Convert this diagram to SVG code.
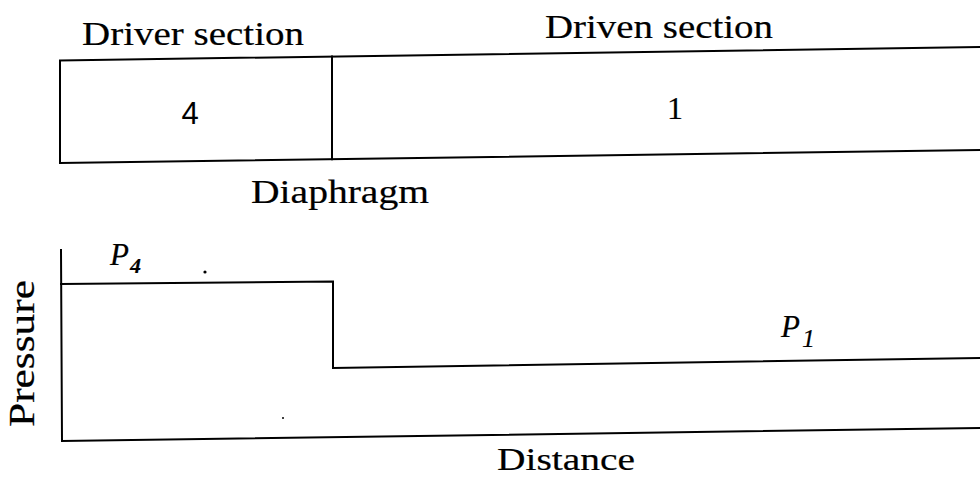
<svg xmlns="http://www.w3.org/2000/svg" width="980" height="483" viewBox="0 0 980 483">
<style>
.ln{stroke:#000;stroke-width:2;fill:none;stroke-linecap:square}
.t{font-family:'Liberation Serif','Times New Roman',Times,serif;fill:#000;stroke:#000;stroke-width:0.2}
.s{font-family:'Liberation Sans',Arial,sans-serif;fill:#000}
.i{font-family:'Liberation Serif','Times New Roman',Times,serif;font-style:italic;fill:#000;stroke:#000;stroke-width:0.2}
</style>
<rect width="980" height="483" fill="#fff"/>
<g id="driver-label"><text class="t" x="82" y="45" font-size="34" textLength="222" lengthAdjust="spacingAndGlyphs">Driver section</text></g>
<g id="driven-label"><text class="t" x="545" y="38" font-size="34" textLength="228" lengthAdjust="spacingAndGlyphs">Driven section</text></g>
<g id="tube">
<path class="ln" d="M60,60.5 L980,47 M60,163 L980,150 M60,60.5 L60,163"/>
</g>
<g id="driver-section"><text class="s" x="190" y="124" font-size="31" text-anchor="middle">4</text></g>
<g id="diaphragm"><path class="ln" d="M332,56.5 L332,159.2"/></g>
<g id="driven-section"><text class="t" x="675" y="119" font-size="32" text-anchor="middle">1</text></g>
<g id="diaphragm-label"><text class="t" x="251" y="203" font-size="33" textLength="178" lengthAdjust="spacingAndGlyphs">Diaphragm</text></g>
<g id="axes">
<path class="ln" d="M61,250 L62,441 L980,428"/>
<text class="t" transform="translate(34,427) rotate(-90)" font-size="35" textLength="147" lengthAdjust="spacingAndGlyphs">Pressure</text>
<text class="t" x="497" y="470" font-size="32" textLength="138" lengthAdjust="spacingAndGlyphs">Distance</text>
</g>
<g id="connectors">
<path class="ln" d="M61,284 L333,281.5 L333,368 L980,358"/>
</g>
<g id="p4"><text class="i" x="110" y="265" font-size="31">P</text><text class="i" x="130" y="273" font-size="22" font-weight="bold">4</text></g>
<g id="p1"><text class="i" x="781" y="337" font-size="31">P</text><text class="i" x="802" y="347" font-size="26">1</text></g>
<circle cx="205" cy="272" r="1.6" fill="#000"/>
<circle cx="283" cy="418" r="1" fill="#000"/>
</svg>
